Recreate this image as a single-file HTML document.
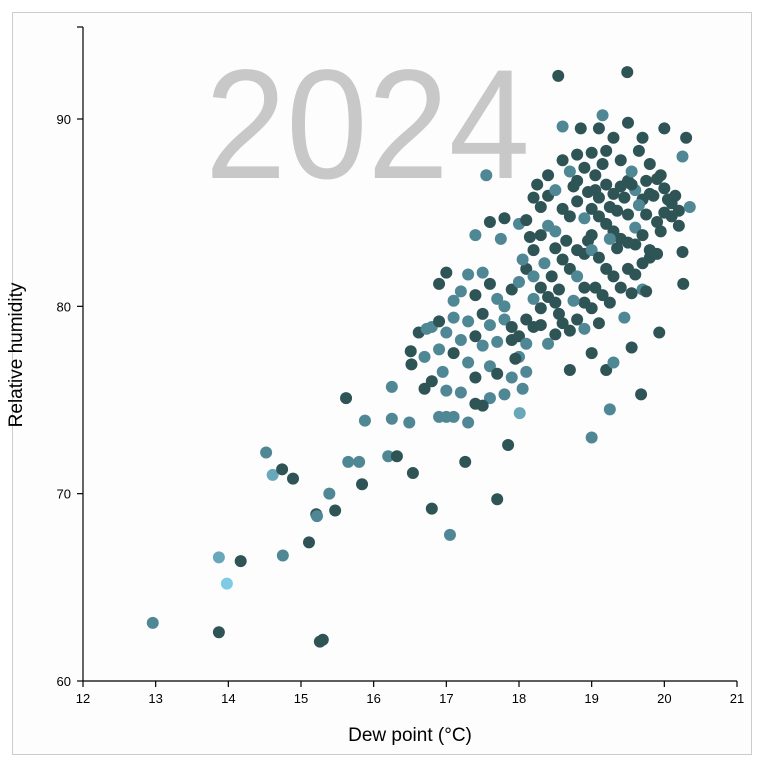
<!DOCTYPE html>
<html><head><meta charset="utf-8"><style>
body{margin:0;background:#fff;}
svg{display:block;font-family:"Liberation Sans",sans-serif;}
</style></head><body>
<svg id="chart" width="766" height="766">
<rect x="12.5" y="12.5" width="739" height="742" fill="#fdfdfd" stroke="#ccc"/>
<text x="205" y="178" font-size="156" fill="#c8c8c8" textLength="325" lengthAdjust="spacingAndGlyphs">2024</text>
<g id="marks"></g>
<g id="axes"></g>
<text x="410" y="741" text-anchor="middle" font-size="19" fill="#000">Dew point (°C)</text>
<text transform="translate(22,355) rotate(-90)" text-anchor="middle" font-size="19" fill="#000">Relative humidity</text>
</svg>
<script>
const xTicks=[12,13,14,15,16,17,18,19,20,21];
const yTicks=[60,70,80,90];
// sparse points: [dewpoint, humidity, shade]
const sparse=[[12.96,63.1,1],[13.87,66.6,2],[13.98,65.2,3],[13.87,62.6,0],[14.17,66.4,0],[14.52,72.2,1],[14.61,71.0,2],[14.74,71.3,0],[14.89,70.8,0],[14.75,66.7,1],[15.11,67.4,0],[15.21,68.9,0],[15.22,68.8,1],[15.26,62.1,0],[15.30,62.2,0],[15.39,70.0,1],[15.47,69.1,0],[15.62,75.1,0],[15.65,71.7,1],[15.80,71.7,1],[15.84,70.5,0],[15.88,73.9,1],[16.20,72.0,1],[16.25,75.7,1],[16.25,74.0,1],[16.32,72.0,0],[16.49,73.8,1],[16.54,71.1,0],[16.51,77.6,0],[16.52,76.9,0],[16.62,78.6,0],[16.73,78.8,1],[16.80,69.2,0],[17.05,67.8,1],[17.26,71.7,0],[17.70,69.7,0],[17.85,72.6,0],[18.01,74.3,2],[19.0,73.0,1],[19.25,74.5,1],[19.68,75.3,0],[19.55,77.8,0],[19.93,78.6,0],[20.26,81.2,0],[18.54,92.3,0],[19.49,92.5,0]];
const clusterA=[[17.0,81.8],[17.3,81.7],[17.5,81.8],[17.6,81.2],[17.1,80.3],[17.2,80.8],[17.4,80.6],[17.7,80.4],[17.8,80.0],[16.9,81.2],[17.1,79.4],[17.3,79.2],[17.5,79.6],[17.6,79.0],[17.8,79.3],[17.9,78.9],[17.0,78.6],[17.2,78.2],[17.4,78.4],[17.5,77.9],[17.7,78.1],[17.9,78.2],[16.8,78.9],[16.9,77.7],[17.1,77.5],[17.3,77.0],[17.6,76.8],[17.7,76.4],[17.9,76.2],[18.0,77.3],[16.8,76.0],[17.0,75.5],[17.2,75.4],[17.4,74.8],[17.6,75.1],[17.8,75.3],[16.7,75.6],[17.0,74.1],[17.1,74.1],[16.9,79.2],[16.7,77.3],[16.95,76.5],[17.4,76.2],[17.3,73.8],[16.9,74.1],[17.5,74.7],[18.05,75.6],[18.1,76.5],[17.9,80.9],[18.0,81.3],[17.75,83.6],[17.6,84.5],[17.4,83.8],[17.55,87.0],[17.8,84.7],[18.0,84.4]];
const clusterB=[[18.1,82.0],[18.2,81.6],[18.3,81.0],[18.4,80.5],[18.5,80.2],[18.2,80.4],[18.1,79.3],[18.3,79.0],[18.5,78.5],[18.4,78.0],[18.6,79.1],[18.7,78.7],[18.8,79.3],[18.9,78.8],[18.7,76.6],[18.2,83.0],[18.3,83.8],[18.4,84.3],[18.5,83.1],[18.6,82.5],[18.7,82.0],[18.8,81.6],[18.9,81.0],[18.3,85.3],[18.4,85.9],[18.5,86.2],[18.6,85.2],[18.7,84.8],[18.8,85.6],[18.9,84.7],[18.2,85.8],[18.1,84.6],[18.6,87.8],[18.7,87.2],[18.8,88.1],[18.9,87.4],[18.75,86.4],[18.5,84.0],[18.65,83.5],[18.8,83.0],[18.9,82.8],[18.35,82.3],[18.45,81.6],[18.55,80.9],[18.9,80.2],[18.05,82.5],[18.15,83.7],[18.25,86.5],[18.4,87.0],[18.6,89.6],[18.85,89.5],[18.3,79.9],[18.55,79.6],[18.75,80.3],[18.95,83.5],[18.95,86.1],[18.0,78.4],[18.1,78.0],[18.2,78.9],[17.95,77.2],[18.8,86.7]];
const clusterC=[[19.0,88.2],[19.1,89.5],[19.2,88.3],[19.15,90.2],[19.3,89.0],[19.5,89.8],[19.7,89.0],[19.65,88.3],[19.8,87.6],[20.0,89.5],[20.25,88.0],[20.3,89.0],[19.05,87.0],[19.2,86.5],[19.3,86.0],[19.4,86.4],[19.5,86.7],[19.6,86.2],[19.7,85.7],[19.8,86.0],[19.9,86.8],[20.0,86.3],[20.1,85.5],[20.2,85.1],[20.35,85.3],[19.0,85.2],[19.1,84.8],[19.2,84.4],[19.3,84.0],[19.4,83.6],[19.5,84.9],[19.6,84.2],[19.7,83.8],[19.8,83.0],[19.9,84.5],[20.0,85.0],[20.1,84.8],[20.2,84.3],[19.0,83.0],[19.1,82.6],[19.2,82.0],[19.3,81.6],[19.4,81.0],[19.5,82.0],[19.6,81.7],[19.7,80.9],[19.8,82.6],[19.9,82.8],[20.25,82.9],[19.05,81.0],[19.15,80.6],[19.25,80.2],[19.45,79.4],[19.55,80.7],[19.75,80.8],[19.0,79.9],[19.1,79.1],[19.2,76.6],[19.0,77.5],[19.3,77.0],[19.0,83.8],[19.1,85.8],[19.25,85.3],[19.35,85.1],[19.45,85.8],[19.55,86.5],[19.65,85.4],[19.75,84.9],[19.85,85.9],[19.95,84.0],[20.05,85.7],[20.15,85.9],[19.4,87.8],[19.55,87.2],[19.75,86.7],[19.15,87.6],[19.35,83.1],[19.6,83.3],[19.85,82.8],[19.05,86.2],[19.25,83.6],[19.5,83.4],[19.7,82.3],[19.95,87.0]];
const shades=["#2e5455","#4f8795","#69a8bb","#7ecbe6"];
const X0=83,X1=737,Y0=681,Y1=119;
function xs(v){return X0+(v-12)/(21-12)*(X1-X0);}
function ys(v){return Y0-(v-60)/(90-60)*(Y0-Y1);}
const NS="http://www.w3.org/2000/svg";
const marks=document.getElementById('marks');
function dot(x,y,c,name){
  const el=document.createElementNS(NS,'circle');
  el.setAttribute('cx',xs(x));el.setAttribute('cy',ys(y));el.setAttribute('r',6);
  el.setAttribute('fill',c);
  
  
  marks.appendChild(el);
}
clusterA.forEach((p,i)=>dot(p[0],p[1],shades[i%3===0?0:1],'point'));
clusterB.forEach((p,i)=>dot(p[0],p[1],shades[i%4===1?1:0],'point'));
clusterC.forEach((p,i)=>dot(p[0],p[1],shades[i%7===3?1:0],'point'));
sparse.forEach(p=>dot(p[0],p[1],shades[p[2]],'point'));
const axes=document.getElementById('axes');
function line(x1,y1,x2,y2,name){const l=document.createElementNS(NS,'line');l.setAttribute('x1',x1);l.setAttribute('y1',y1);l.setAttribute('x2',x2);l.setAttribute('y2',y2);l.setAttribute('stroke','#000');l.setAttribute('stroke-width','1.2');


axes.appendChild(l);}
function txt(x,y,s,anchor,name){const t=document.createElementNS(NS,'text');t.setAttribute('x',x);t.setAttribute('y',y);t.setAttribute('text-anchor',anchor);t.setAttribute('font-size','13');t.textContent=s;


axes.appendChild(t);}
line(X0,681,X1,681,'x-axis-line');
line(83,27,83,681,'y-axis-line');
line(77,27,83,27,'y-axis-top-tick');
xTicks.forEach(v=>{line(xs(v),681,xs(v),687,'x-tick');txt(xs(v),703,String(v),'middle','x-tick-label');});
yTicks.forEach(v=>{line(77,ys(v),83,ys(v),'y-tick');txt(71,ys(v)+5,String(v),'end','y-tick-label');});
</script>
</body></html>
